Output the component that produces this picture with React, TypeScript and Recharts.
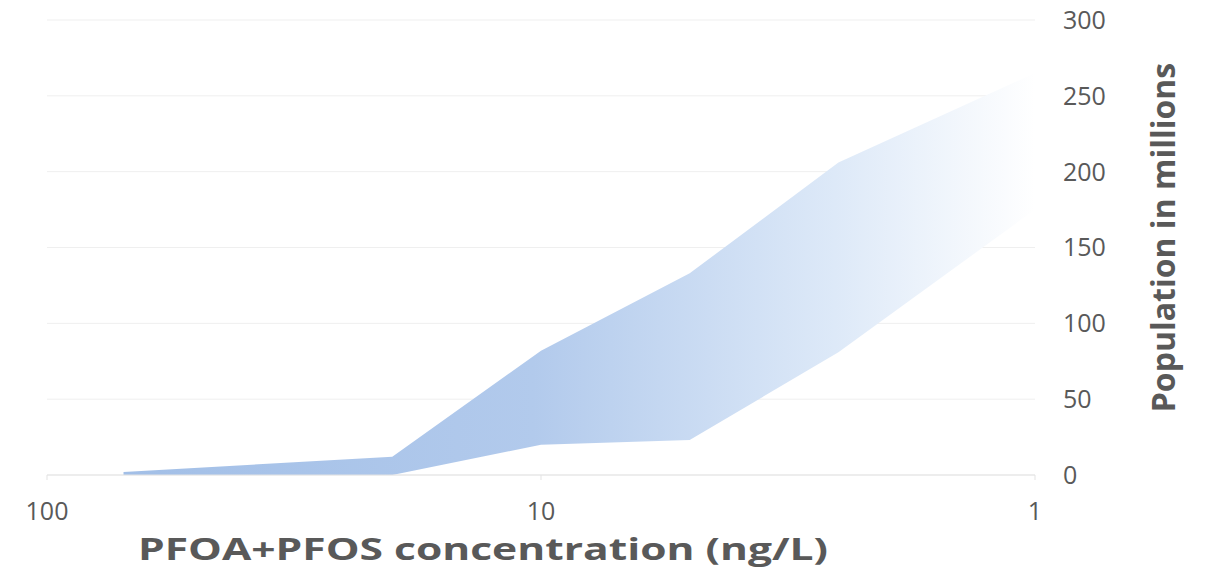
import { AreaChart, Area, XAxis, YAxis, CartesianGrid } from "recharts";

// PFOA+PFOS concentration (ng/L), x axis is log and reversed
const concentrations = [70, 20, 10, 5, 2.5, 1];
const lowerPop = [0, 0, 20, 23, 81, 175];
const upperPop = [2, 12, 82, 133, 206, 265];

const xTicks = [1, 10, 100];
const yTicks = [0, 50, 100, 150, 200, 250, 300];

const data = concentrations.map((c, i) => ({
  conc: c,
  band: [lowerPop[i], upperPop[i]],
}));

const textColor = "#595959";
const font = "'Open Sans', sans-serif";

export default function App() {
  return (
    <div style={{ position: "absolute", left: 0, top: 0, fontFamily: font }}>
      <AreaChart
        width={1206}
        height={569}
        data={data}
        margin={{ top: 20, left: 47, right: 21, bottom: 14 }}
      >
        <defs>
          <linearGradient id="bandFill" x1="0" y1="0" x2="1" y2="0">
            <stop offset="0%" stopColor="#a2bfe7" />
            <stop offset="45%" stopColor="#b2caec" />
            <stop offset="78%" stopColor="#dde9f8" />
            <stop offset="100%" stopColor="#ffffff" />
          </linearGradient>
        </defs>
        <CartesianGrid vertical={false} stroke="#efefef" />
        <XAxis
          dataKey="conc"
          type="number"
          scale="log"
          domain={[1, 100]}
          reversed
          ticks={xTicks}
          allowDataOverflow
          height={80}
          axisLine={{ stroke: "#e3e3e3" }}
          tickLine={{ stroke: "#e3e3e3" }}
          tickSize={5}
          tickMargin={22}
          tick={{ fill: textColor, fontSize: 25, fontFamily: font }}
          label={{
            content: ({ viewBox }: any) => (
              <text
                x={viewBox.x + 436}
                y={viewBox.y + 85}
                textAnchor="middle"
                fill={textColor}
                fontSize={30}
                fontWeight="bold"
                fontFamily={font}
                textLength={690}
                lengthAdjust="spacingAndGlyphs"
              >
                PFOA+PFOS concentration (ng/L)
              </text>
            ),
          }}
        />
        <YAxis
          orientation="right"
          domain={[0, 300]}
          ticks={yTicks}
          width={150}
          axisLine={false}
          tickLine={false}
          tickSize={0}
          tickMargin={28}
          tick={{ fill: textColor, fontSize: 25, fontFamily: font }}
          label={{
            content: ({ viewBox }: any) => {
              const x = viewBox.x + 140;
              const y = viewBox.y + viewBox.height / 2 - 10;
              return (
                <text
                  x={x}
                  y={y}
                  transform={`rotate(-90 ${x} ${y})`}
                  textAnchor="middle"
                  fill={textColor}
                  fontSize={32}
                  fontWeight="bold"
                  fontFamily={font}
                >
                  Population in millions
                </text>
              );
            },
          }}
        />
        <Area
          dataKey="band"
          type="linear"
          stroke="none"
          fill="url(#bandFill)"
          fillOpacity={1}
          isAnimationActive={false}
          dot={false}
          activeDot={false}
        />
      </AreaChart>
    </div>
  );
}
